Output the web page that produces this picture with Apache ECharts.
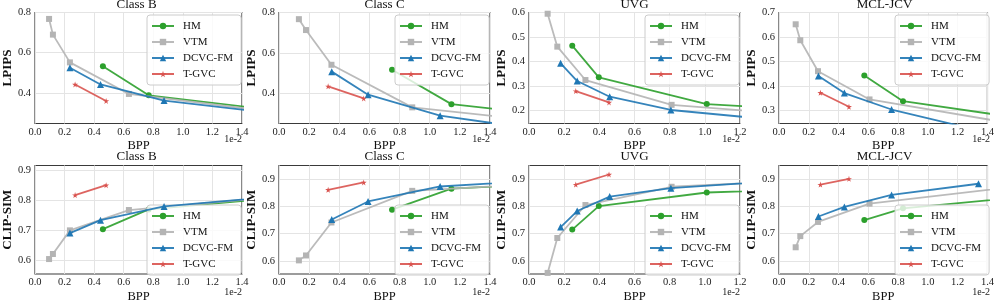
<!DOCTYPE html>
<html><head><meta charset="utf-8">
<script src="https://cdn.jsdelivr.net/npm/echarts@6/dist/echarts.min.js"></script>
<style>html,body{margin:0;padding:0;background:#fff}#c{width:997px;height:304px}</style>
</head><body><div id="c"></div>
<script>
// ---------------- DATA (BPP shown in units of 1e-2) ----------------
const datasets = ['Class B', 'Class C', 'UVG', 'MCL-JCV'];
const codecs = ['HM', 'VTM', 'DCVC-FM', 'T-GVC'];

// Class B
const bppB_HM   = [0.459, 0.769, 2.2];
const bppB_VTM  = [0.095, 0.121, 0.236, 0.635, 2.2];
const bppB_DCVC = [0.236, 0.443, 0.873, 2.2];
const bppB_TGVC = [0.271, 0.481];
const lpipsB_HM   = [0.533, 0.388, 0.263];
const lpipsB_VTM  = [0.768, 0.690, 0.552, 0.395, 0.252];
const lpipsB_DCVC = [0.525, 0.442, 0.362, 0.249];
const lpipsB_TGVC = [0.442, 0.360];
const clipB_HM   = [0.703, 0.769, 0.833];
const clipB_VTM  = [0.603, 0.620, 0.699, 0.767, 0.836];
const clipB_DCVC = [0.690, 0.733, 0.779, 0.837];
const clipB_TGVC = [0.817, 0.850];

// Class C
const bppC_HM   = [0.750, 1.144, 2.2];
const bppC_VTM  = [0.132, 0.179, 0.348, 0.884, 2.2];
const bppC_DCVC = [0.350, 0.591, 1.069, 2.2];
const bppC_TGVC = [0.326, 0.562];
const lpipsC_HM   = [0.516, 0.346, 0.259];
const lpipsC_VTM  = [0.767, 0.713, 0.541, 0.330, 0.225];
const lpipsC_DCVC = [0.507, 0.393, 0.289, 0.169];
const lpipsC_TGVC = [0.434, 0.374];
const clipC_HM   = [0.788, 0.865, 0.894];
const clipC_VTM  = [0.602, 0.620, 0.741, 0.857, 0.898];
const clipC_DCVC = [0.752, 0.818, 0.873, 0.911];
const clipC_TGVC = [0.861, 0.888];

// UVG
const bppU_HM   = [0.246, 0.397, 1.011, 1.6];
const bppU_VTM  = [0.106, 0.161, 0.321, 0.811, 1.6];
const bppU_DCVC = [0.180, 0.274, 0.459, 0.807, 1.6];
const bppU_TGVC = [0.266, 0.455];
const lpipsU_HM   = [0.465, 0.336, 0.227, 0.202];
const lpipsU_VTM  = [0.595, 0.461, 0.325, 0.224, 0.179];
const lpipsU_DCVC = [0.393, 0.321, 0.257, 0.203, 0.149];
const lpipsU_TGVC = [0.280, 0.234];
const clipU_HM   = [0.715, 0.801, 0.851, 0.863];
const clipU_VTM  = [0.556, 0.684, 0.805, 0.872, 0.896];
const clipU_DCVC = [0.724, 0.783, 0.836, 0.867, 0.901];
const clipU_TGVC = [0.880, 0.917];

// MCL-JCV
const bppM_HM   = [0.573, 0.833, 2.2];
const bppM_VTM  = [0.112, 0.143, 0.262, 0.608, 2.2];
const bppM_DCVC = [0.265, 0.439, 0.756, 1.34];
const bppM_TGVC = [0.278, 0.470];
const lpipsM_HM   = [0.443, 0.339, 0.219];
const lpipsM_VTM  = [0.652, 0.587, 0.461, 0.346, 0.183];
const lpipsM_DCVC = [0.441, 0.372, 0.305, 0.220];
const lpipsM_TGVC = [0.373, 0.316];
const clipM_HM   = [0.750, 0.793, 0.863];
const clipM_VTM  = [0.650, 0.691, 0.743, 0.810, 0.912];
const clipM_DCVC = [0.763, 0.798, 0.842, 0.883];
const clipM_TGVC = [0.880, 0.901];

// axis ranges / tick labels
const xMaxes = [1.4, 1.4, 1.2, 1.4];
const lpipsRanges = [[0.248, 0.8], [0.25, 0.8], [0.148, 0.6], [0.248, 0.7]];
const lpipsTicks = [[0.4, 0.6, 0.8], [0.4, 0.6, 0.8], [0.2, 0.3, 0.4, 0.5, 0.6], [0.3, 0.4, 0.5, 0.6, 0.7]];
const clipRanges = [[0.553, 0.916], [0.552, 0.95], [0.552, 0.95], [0.552, 0.95]];
const clipTicks = [[0.6, 0.7, 0.8, 0.9], [0.6, 0.7, 0.8, 0.9], [0.6, 0.7, 0.8, 0.9], [0.6, 0.7, 0.8, 0.9]];

const bppAll = [
  [bppB_HM, bppB_VTM, bppB_DCVC, bppB_TGVC],
  [bppC_HM, bppC_VTM, bppC_DCVC, bppC_TGVC],
  [bppU_HM, bppU_VTM, bppU_DCVC, bppU_TGVC],
  [bppM_HM, bppM_VTM, bppM_DCVC, bppM_TGVC]
];
const lpipsAll = [
  [lpipsB_HM, lpipsB_VTM, lpipsB_DCVC, lpipsB_TGVC],
  [lpipsC_HM, lpipsC_VTM, lpipsC_DCVC, lpipsC_TGVC],
  [lpipsU_HM, lpipsU_VTM, lpipsU_DCVC, lpipsU_TGVC],
  [lpipsM_HM, lpipsM_VTM, lpipsM_DCVC, lpipsM_TGVC]
];
const clipAll = [
  [clipB_HM, clipB_VTM, clipB_DCVC, clipB_TGVC],
  [clipC_HM, clipC_VTM, clipC_DCVC, clipC_TGVC],
  [clipU_HM, clipU_VTM, clipU_DCVC, clipU_TGVC],
  [clipM_HM, clipM_VTM, clipM_DCVC, clipM_TGVC]
];

// ---------------- STYLE / LAYOUT ----------------
const FONT = '"Liberation Serif", "Times New Roman", serif';
const STAR = 'path://M50,0 L61,35 L98,35 L68,57 L79,91 L50,70 L21,91 L32,57 L2,35 L39,35 Z';
const codecStyle = [
  { color: '#2ca02c', symbol: 'circle', size: 6 },
  { color: '#b4b4b4', symbol: 'rect', size: 6 },
  { color: '#1f77b4', symbol: 'triangle', size: 7 },
  { color: '#d9534f', symbol: STAR, size: 6 }
];
const colLeft = [31, 279, 529, 779];
const gridW = 211;
const rowTop = [12.5, 165.5];
const gridH = 111;

const grids = [], xAxes = [], yAxes = [], series = [], titles = [], legends = [];
const fmt1 = v => (Math.round(v * 10) / 10).toFixed(1);

for (let r = 0; r < 2; r++) {
  for (let c = 0; c < 4; c++) {
    const gi = r * 4 + c;
    grids.push({ left: colLeft[c], top: rowTop[r], width: gridW, height: gridH,
      show: true, borderColor: '#3a3a3a', borderWidth: 1.2, backgroundColor: 'transparent' });
    xAxes.push({
      type: 'value', gridIndex: gi, min: 0, max: xMaxes[c], interval: 0.2,
      name: 'BPP', nameLocation: 'middle', nameGap: 16,
      nameTextStyle: { fontFamily: FONT, fontSize: 12.5, color: '#111' },
      axisLine: { show: false }, axisTick: { show: false },
      axisLabel: { fontFamily: FONT, fontSize: 10.5, color: '#222', margin: 3, formatter: fmt1,
        showMinLabel: true, showMaxLabel: true },
      splitLine: { show: true, lineStyle: { color: '#e4e4e4', width: 1 } }
    });
    const rng = r === 0 ? lpipsRanges[c] : clipRanges[c];
    const tks = r === 0 ? lpipsTicks[c] : clipTicks[c];
    yAxes.push({
      type: 'value', gridIndex: gi, min: rng[0], max: rng[1],
      name: r === 0 ? 'LPIPS' : 'CLIP-SIM', nameLocation: 'middle', nameGap: 18.5, nameRotate: 90,
      nameTextStyle: { fontFamily: FONT, fontSize: 13, fontWeight: 'bold', color: '#111' },
      axisLine: { show: false },
      axisTick: { show: false, customValues: tks },
      axisLabel: { fontFamily: FONT, fontSize: 10.5, color: '#222', margin: 4, formatter: fmt1, customValues: tks },
      splitLine: { show: true, lineStyle: { color: '#e4e4e4', width: 1 } }
    });
    for (let k = 0; k < 4; k++) {
      const xs = bppAll[c][k];
      const ys = (r === 0 ? lpipsAll : clipAll)[c][k];
      const st = codecStyle[k];
      series.push({
        type: 'line', name: codecs[k], xAxisIndex: gi, yAxisIndex: gi,
        data: xs.map((x, i) => [x, ys[i]]),
        symbol: st.symbol, symbolSize: st.size, showSymbol: true, clip: true,
        itemStyle: { color: st.color }, color: st.color,
        lineStyle: { color: st.color, width: 1.8, opacity: 0.9 },
        emphasis: { disabled: true }, z: 2 + k
      });
    }
    const cx = colLeft[c] + gridW / 2;
    titles.push({ text: datasets[c], left: cx, top: r === 0 ? -2 : 150, textAlign: 'center', padding: 0,
      textStyle: { fontFamily: FONT, fontSize: 13, fontWeight: 'normal', color: '#111' } });
    titles.push({ text: '1e-2', left: colLeft[c] + gridW, top: r === 0 ? 134 : 287, textAlign: 'right', padding: 0,
      textStyle: { fontFamily: FONT, fontSize: 10, fontWeight: 'normal', color: '#222' } });
    legends.push({
      data: codecs, orient: 'vertical', left: colLeft[c] + 116, top: r === 0 ? 15 : 205,
      padding: [5, 8, 5, 4], itemGap: 4, itemWidth: 22, itemHeight: 8,
      backgroundColor: 'rgba(255,255,255,0.8)', borderColor: '#cccccc', borderWidth: 1, borderRadius: 3,
      selectedMode: false,
      textStyle: { fontFamily: FONT, fontSize: 11, color: '#111', lineHeight: 12, padding: [0, 0, 0, 4] }
    });
  }
}

const chart = echarts.init(document.getElementById('c'), null, { renderer: 'canvas' });
chart.setOption({
  animation: false,
  backgroundColor: '#fff',
  title: titles, legend: legends, grid: grids, xAxis: xAxes, yAxis: yAxes, series: series
});
</script></body></html>
